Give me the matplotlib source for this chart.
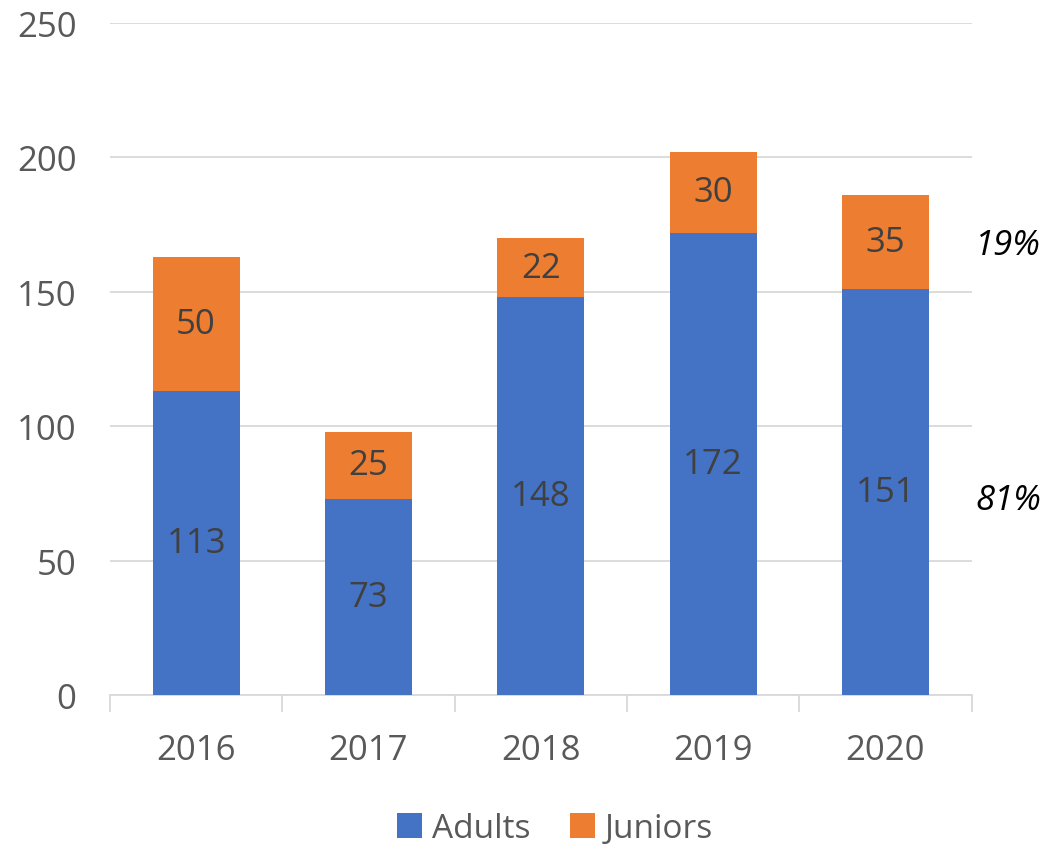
import numpy as np
import matplotlib.pyplot as plt
from matplotlib.ticker import FixedLocator

years = ["2016", "2017", "2018", "2019", "2020"]
adults = [113, 73, 148, 172, 151]
juniors = [50, 25, 22, 30, 35]
share_labels = ["19%", "81%"]

blue = "#4472C4"
orange = "#ED7D31"
grey_text = "#595959"

plt.rcParams['font.family'] = ['Open Sans', 'DejaVu Sans']

fig = plt.figure(figsize=(10.47, 8.45), dpi=100)
ax = fig.add_axes([0.105, 0.176, 0.823, 0.7956])

x = np.arange(len(years))
w = 0.505
b1 = ax.bar(x, adults, w, color=blue, label="Adults", zorder=3)
b2 = ax.bar(x, juniors, w, bottom=adults, color=orange, label="Juniors", zorder=3)

for i in range(len(years)):
    ax.text(x[i], adults[i] / 2, str(adults[i]), ha="center", va="center",
            fontsize=25, color="#404040", zorder=4)
    ax.text(x[i], adults[i] + juniors[i] / 2, str(juniors[i]), ha="center", va="center",
            fontsize=25, color="#404040", zorder=4)

ax.set_xlim(-0.5, 4.5)
ax.set_ylim(0, 250)
ax.set_yticks(range(0, 251, 50))
ax.set_xticks(x)
ax.set_xticklabels(years)
ax.xaxis.set_minor_locator(FixedLocator(np.arange(-0.5, 5, 1)))

ax.grid(axis="y", color="#D9D9D9", linewidth=1.3, zorder=0)
for s in ["top", "right", "left"]:
    ax.spines[s].set_visible(False)
ax.spines["bottom"].set_color("#D9D9D9")
ax.spines["bottom"].set_linewidth(1.3)

ax.tick_params(axis="y", length=0, labelsize=25, labelcolor=grey_text, pad=24)
ax.tick_params(axis="x", which="major", length=0, labelsize=25, labelcolor=grey_text, pad=27)
ax.tick_params(axis="x", which="minor", length=12, color="#D9D9D9", width=1.3)

# share annotations on the right
fig.text(0.963, 0.709, share_labels[0], ha="center", va="center", fontsize=25,
         style="italic", color="black")
fig.text(0.963, 0.407, share_labels[1], ha="center", va="center", fontsize=25,
         style="italic", color="black")

fig.legend(handles=[b1, b2], loc="center", bbox_to_anchor=(0.53, 0.018), ncol=2,
           frameon=False, fontsize=24, labelcolor=grey_text, handlelength=0.75,
           handleheight=0.75, handletextpad=0.3, columnspacing=1.2)

fig.savefig("out.png", dpi=100)
